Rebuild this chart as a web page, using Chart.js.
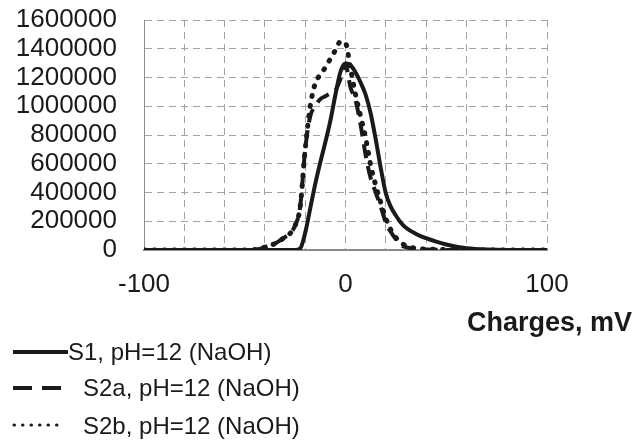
<!DOCTYPE html>
<html>
<head>
<meta charset="utf-8">
<script src="https://cdn.jsdelivr.net/npm/chart.js@4/dist/chart.umd.min.js"></script>
<style>
  html, body { margin: 0; padding: 0; background: #fff; }
  #wrap { position: relative; width: 641px; height: 444px; font-family: "Liberation Sans", Arial, sans-serif; color: #1a1a1a; }
  #c { position: absolute; left: 0; top: 0; }
  .leg { position: absolute; font-size: 24px; line-height: 24px; white-space: nowrap; }
  #xtitle { position: absolute; left: 467px; top: 309px; font-size: 27px; line-height: 27px; font-weight: bold; white-space: nowrap; }
  #legsvg { position: absolute; left: 0; top: 0; pointer-events: none; }
</style>
</head>
<body>
<div id="wrap">
  <canvas id="c" width="641" height="444"></canvas>
  <svg id="legsvg" width="641" height="444"></svg>
  <div id="leg0" class="leg" style="left:68px; top:340px;"></div>
  <div id="leg1" class="leg" style="left:83px; top:376px;"></div>
  <div id="leg2" class="leg" style="left:83px; top:414px;"></div>
  <div id="xtitle"></div>
</div>
<script>
// ---- data ----
const charges = [-100, -60, -50, -47.5, -45, -42.5, -40, -35, -30, -27.5,
                 -25, -22.5, -20, -17.5, -15, -12.5, -10, -7.5, -5, -2.5,
                 0, 2.5, 5, 7.5, 10, 12.5, 15, 17.5, 20, 22.5,
                 25, 27.5, 30, 35, 40, 45, 50, 55, 60, 70,
                 80, 100];
const s1 = [0, 0, 0, 0, 0, 0, 0, 0, 0, 0,
            0, 10000, 120000, 290000, 460000, 610000, 750000, 900000, 1080000, 1240000,
            1300000, 1285000, 1235000, 1165000, 1080000, 950000, 770000, 570000, 395000, 300000,
            240000, 190000, 155000, 112000, 82000, 58000, 38000, 22000, 12000, 3000,
            0, 0];
const s2a = [0, 0, 0, 0, 3000, 8000, 20000, 45000, 90000, 115000,
             170000, 300000, 700000, 930000, 1000000, 1050000, 1070000, 1090000, 1110000, 1190000,
             1290000, 1130000, 1040000, 870000, 660000, 500000, 400000, 300000, 190000, 125000,
             75000, 35000, 20000, 7000, 4000, 2000, 0, 0, 0, 0,
             0, 0];
const s2b = [0, 0, 0, 0, 3000, 8000, 20000, 45000, 90000, 115000,
             170000, 300000, 700000, 1000000, 1160000, 1220000, 1270000, 1330000, 1390000, 1450000,
             1440000, 1260000, 1080000, 930000, 780000, 590000, 450000, 330000, 220000, 140000,
             85000, 52000, 30000, 12000, 6000, 4000, 3000, 2000, 0, 0,
             0, 0];
const seriesNames = ["S1, pH=12 (NaOH)", "S2a, pH=12 (NaOH)", "S2b, pH=12 (NaOH)"];
const xTitle = "Charges, mV";
const xLabelValues = [-100, 0, 100];
const yTicks = [0, 200000, 400000, 600000, 800000, 1000000, 1200000, 1400000, 1600000];

// ---- chart ----
const lineColor = '#1a1a1a';
const pts = arr => charges.map((x, i) => ({ x: x, y: arr[i] }));
const gridColor = '#a3a3a3';
const axisColor = '#8c8c8c';
const tickFont = { family: '"Liberation Sans", Arial, sans-serif', size: 26 };

new Chart(document.getElementById('c'), {
  type: 'line',
  data: {
    datasets: [
      { label: seriesNames[0], data: pts(s1), borderColor: lineColor, borderWidth: 4,
        pointRadius: 0, cubicInterpolationMode: 'monotone', fill: false, order: 0 },
      { label: seriesNames[1], data: pts(s2a), borderColor: lineColor, borderWidth: 4,
        borderDash: [14, 8], pointRadius: 0, cubicInterpolationMode: 'monotone', fill: false, order: 1 },
      { label: seriesNames[2], data: pts(s2b), borderColor: lineColor, borderWidth: 5,
        borderDash: [1, 9], borderCapStyle: 'round', pointRadius: 0, cubicInterpolationMode: 'monotone', fill: false, order: 2 }
    ]
  },
  options: {
    responsive: false,
    animation: false,
    layout: { padding: { left: 0, right: 94, top: 20, bottom: 0 } },
    plugins: { legend: { display: false }, tooltip: { enabled: false } },
    scales: {
      x: {
        type: 'linear', min: -100, max: 100,
        afterFit: s => { s.height = 194; s.paddingLeft = 0; s.paddingRight = 0; },
        ticks: {
          stepSize: 20, autoSkip: false, maxRotation: 0, padding: 19,
          color: '#1a1a1a', font: tickFont,
          callback: v => (xLabelValues.includes(v) ? String(v) : '')
        },
        grid: { color: gridColor, lineWidth: 1, drawTicks: false },
        border: { display: true, color: axisColor, width: 2, dash: [7, 5] }
      },
      y: {
        min: 0, max: 1600000,
        afterFit: s => { s.width = 144; s.paddingTop = 0; s.paddingBottom = 0; },
        afterBuildTicks: s => { s.ticks = yTicks.map(v => ({ value: v })); },
        ticks: {
          autoSkip: false, padding: 27, color: '#1a1a1a', font: tickFont,
          callback: v => String(v)
        },
        grid: { color: gridColor, lineWidth: 1, drawTicks: false },
        border: { display: true, color: axisColor, width: 1, dash: [7, 5] }
      }
    }
  }
});

// ---- legend and axis title (text) ----
document.getElementById('leg0').textContent = seriesNames[0];
document.getElementById('leg1').textContent = seriesNames[1];
document.getElementById('leg2').textContent = seriesNames[2];
document.getElementById('xtitle').textContent = xTitle;
const svg = document.getElementById('legsvg');
svg.innerHTML =
  '<line x1="13" y1="352" x2="68" y2="352" stroke="' + lineColor + '" stroke-width="4"/>' +
  '<line x1="13" y1="388" x2="61" y2="388" stroke="' + lineColor + '" stroke-width="4" stroke-dasharray="19 10"/>' +
  '<line x1="14" y1="425" x2="62" y2="425" stroke="' + lineColor + '" stroke-width="3" stroke-linecap="round" stroke-dasharray="0.5 8"/>';
</script>
</body>
</html>
